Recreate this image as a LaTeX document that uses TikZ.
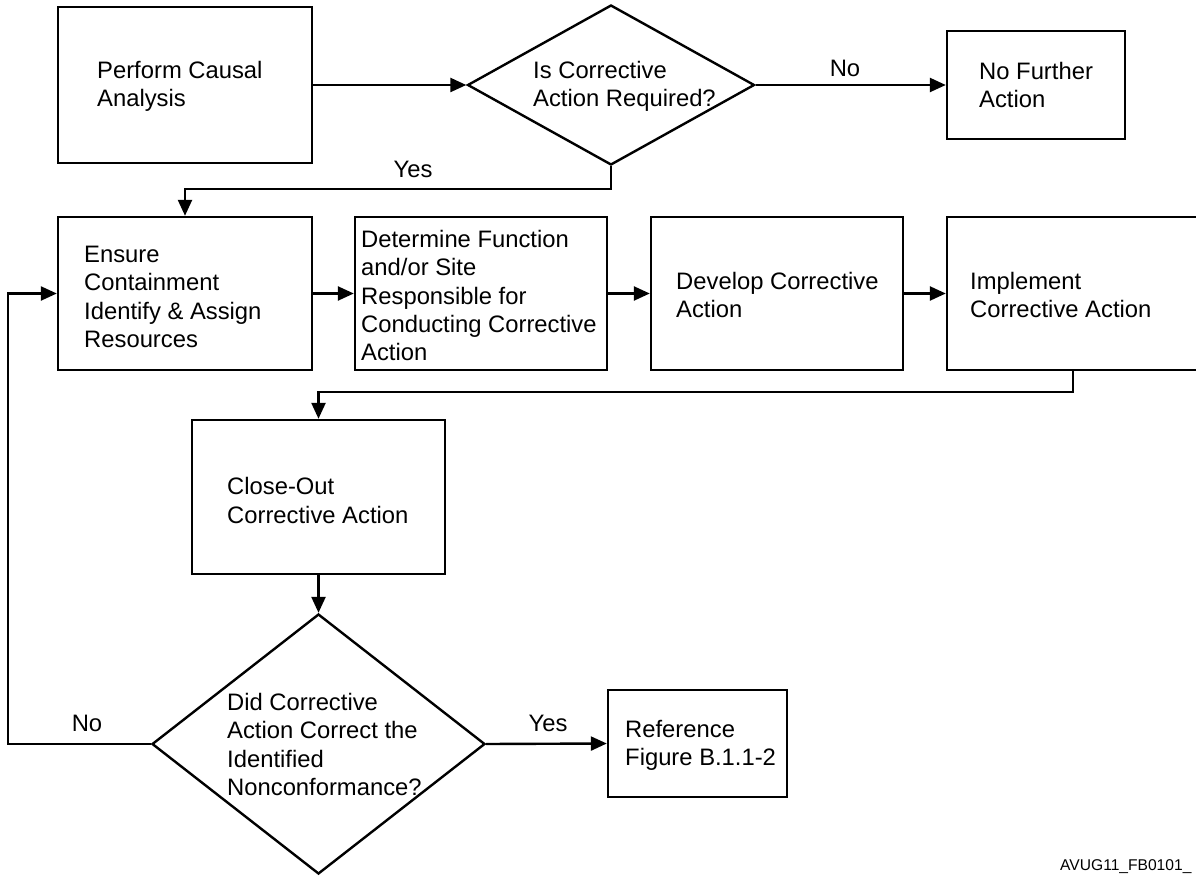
\documentclass[tikz,border=0pt]{standalone}
\usepackage{fontspec}
\setmainfont{Liberation Sans}
\usetikzlibrary{shapes.geometric,arrows.meta}
\begin{document}
\begin{tikzpicture}[x=1pt,y=-1pt,
  line width=2.4pt,
  box/.style={draw, rectangle, inner sep=0pt, line width=2.4pt},
  dia/.style={draw, diamond, inner sep=0pt, line width=2.4pt},
  txt/.style={anchor=west, inner sep=0pt, align=left, font=\fontsize{23.8}{28.3}\selectfont},
  lbl/.style={inner sep=0pt, font=\fontsize{23.8}{28.3}\selectfont},
  arr/.style={-{Triangle[length=16pt,width=14pt]}, line width=2.4pt}
]
\useasboundingbox (0,0) rectangle (1196,877);
\clip (0,0) rectangle (1196,877);
\fill[white] (0,0) rectangle (1196,877);

% shapes
\node[box, minimum width=254pt, minimum height=156pt] (A) at (185,85) {};
\node[dia, minimum width=287pt, minimum height=160pt] (B) at (611,85) {};
\node[box, minimum width=178pt, minimum height=108pt] (C) at (1036,85) {};
\node[box, minimum width=254pt, minimum height=153pt] (D) at (185,293.5) {};
\node[box, minimum width=252pt, minimum height=153pt] (E) at (481,293.5) {};
\node[box, minimum width=252pt, minimum height=153pt] (F) at (777,293.5) {};
\node[box, minimum width=252pt, minimum height=153pt] (G) at (1073,293.5) {};
\node[box, minimum width=253pt, minimum height=154pt] (H) at (318.5,497) {};
\node[dia, minimum width=333pt, minimum height=260pt] (I) at (318.5,744) {};
\node[box, minimum width=179pt, minimum height=107pt] (J) at (697.5,743.5) {};

% texts
\node[txt] (At) at (96,86) {Perform Causal\\Analysis};
\node[txt] (Bt) at (532,86) {Is Corrective\\Action Required?};
\node[txt] (Ct) at (978,85) {No Further\\Action};
\node[txt] (Dt) at (83,297) {Ensure\\Containment\\Identify \& Assign\\Resources};
\node[txt] (Et) at (360,295.5) {Determine Function\\and/or Site\\Responsible for\\Conducting Corrective\\Action};
\node[txt] (Ft) at (675,295) {Develop Corrective\\Action};
\node[txt] (Gt) at (969,295) {Implement\\Corrective Action};
\node[txt] (Ht) at (226,500.5) {Close-Out\\Corrective Action};
\node[txt] (It) at (226,744.5) {Did Corrective\\Action Correct the\\Identified\\Nonconformance?};
\node[txt] (Jt) at (624,745.5) {Reference\\Figure B.1.1-2};

% labels
\node[lbl] (noB) at (845,68) {No};
\node[lbl] (yesB) at (413,169) {Yes};
\node[lbl] (yesI) at (548,723) {Yes};
\node[lbl] (noI) at (87,723) {No};
\node[anchor=west, inner sep=0pt, font=\fontsize{15.6}{18}\selectfont] (foot) at (1059,867) {AVUG11\_FB0101\_};

% helper coordinates
\coordinate (yb) at (611,189);
\coordinate (gh) at (1073,392);
\coordinate (lp) at (8,744);

% connectors
\draw[arr] (A.east) -- (B.west);
\draw[arr] (B.east) -- (C.west);
\draw[arr] (B.south) -- (yb) -| (D.north);
\draw[arr] (D.east) -- (E.west);
\draw[arr] (E.east) -- (F.west);
\draw[arr] (F.east) -- (G.west);
\draw[arr] (G.south) -- (gh) -| (H.north);
\draw[arr] (H.south) -- (I.north);
\draw[arr] (I.east) -- (J.west);
\draw[arr] (I.west) -- (lp) |- (D.west);
\end{tikzpicture}
\end{document}
